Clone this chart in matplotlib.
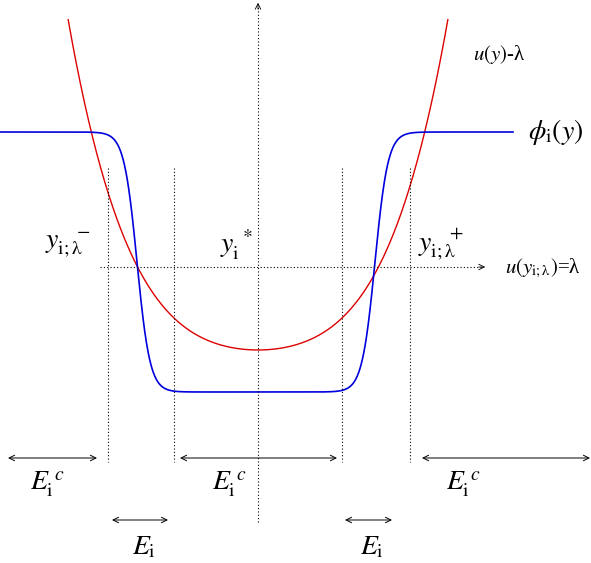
import numpy as np
import matplotlib
matplotlib.use("Agg")
import matplotlib.pyplot as plt

W, H = 591, 563
# schematic parameters (pixel units)
vertex = (258, 350)
quad, quart = 0.0034, 1.6e-7
phi_top, phi_bot = 132, 392
phi_centers = [137, 375]
phi_width = 13
phi_xmax = 513
vlines_x = [108, 174, 342, 410]
harrows = [(8, 97, 458), (180, 337, 458), (422, 590, 458), (112, 168, 520), (345, 392, 520)]

plt.rcParams['font.family'] = ['Liberation Serif', 'DejaVu Serif']
plt.rcParams['mathtext.fontset'] = 'stix'
fig = plt.figure(figsize=(W/100, H/100), dpi=100)
ax = fig.add_axes([0, 0, 1, 1])
ax.set_xlim(0, W); ax.set_ylim(H, 0); ax.axis('off')

x = np.linspace(55, 460, 800)
dx = x - vertex[0]
y = vertex[1] - quad*dx**2 - quart*dx**4
m = y > 18
ax.plot(x[m], y[m], color='#dd0000', lw=1)

xb = np.linspace(0, phi_xmax, 1500)
left = 0.5*(1+np.tanh((xb-phi_centers[0])/phi_width))
right = 0.5*(1+np.tanh((xb-phi_centers[1])/phi_width))
s = left - right
yb = phi_top + (phi_bot-phi_top)*s
ax.plot(xb, yb, color='#0000dd', lw=1.2)

dot = dict(color='black', lw=0.8, ls=(0, (1, 2)))
ax.plot([258, 258], [522, 5], **dot)
ax.annotate('', xy=(258, 0), xytext=(258, 12), arrowprops=dict(arrowstyle='->', lw=0.6))
ax.plot([100, 482], [267, 267], **dot)
ax.annotate('', xy=(488, 267), xytext=(476, 267), arrowprops=dict(arrowstyle='->', lw=0.6))
for vx in vlines_x:
    ax.plot([vx, vx], [168, 462], **dot)
for x0, x1, yy in harrows:
    ax.annotate('', xy=(x0, yy), xytext=(x1, yy), arrowprops=dict(arrowstyle='<->', lw=0.7, shrinkA=0, shrinkB=0))

fs = 20
ax.text(473, 55, r'$u(y)$-λ', fontsize=15, va='center')
ax.text(528, 132, r'$\phi_{\rm i}(y)$', fontsize=20, va='center')
ax.text(45, 245, r'$y_{\rm i;\lambda}^{\ \ \ -}$', fontsize=fs, va='center')
ax.text(220, 245, r'$y_{\rm i}^{\ *}$', fontsize=fs, va='center')
ax.text(418, 245, r'$y_{\rm i;\lambda}^{\ \ \ +}$', fontsize=fs, va='center')
ax.text(505, 268, r'$u(y_{\rm i;\lambda})$=λ', fontsize=15, va='center')
for ex in [30, 212, 446]:
    ax.text(ex, 485, r'$E_{\rm i}^{\ c}$', fontsize=fs, va='center')
for ex in [132, 360]:
    ax.text(ex, 548, r'$E_{\rm i}$', fontsize=fs, va='center')

fig.savefig('out.png', dpi=100)
